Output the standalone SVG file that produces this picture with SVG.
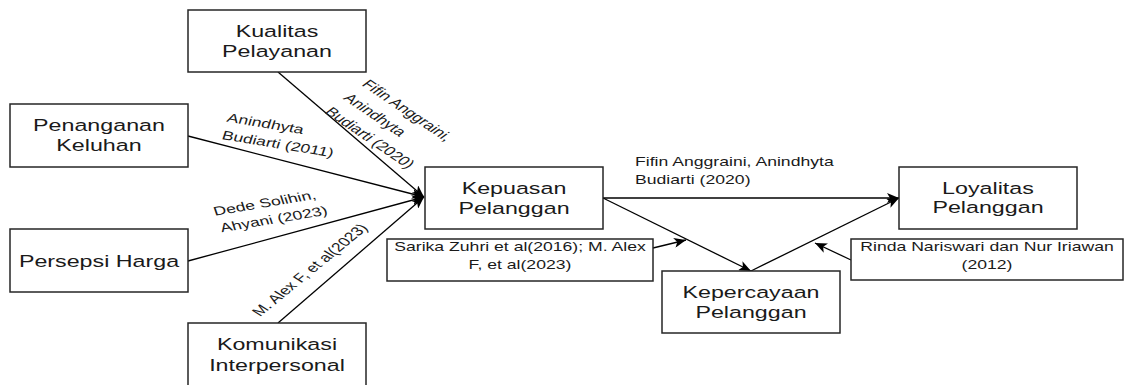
<svg xmlns="http://www.w3.org/2000/svg" width="1124" height="385" viewBox="0 0 1124 385">
<style>
.box{fill:#fff;stroke:#262626;stroke-width:1.5}
.n{font-family:"Liberation Sans",Arial,sans-serif;font-size:16.5px;fill:#1a1a1a;text-anchor:middle}
.l{font-family:"Liberation Sans",Arial,sans-serif;font-size:12.5px;fill:#1a1a1a}
.lc{text-anchor:middle}
.e{fill:none;stroke:#000;stroke-width:1.3}
</style>
<defs>
<marker id="arr" markerUnits="userSpaceOnUse" markerWidth="14" markerHeight="10" refX="12" refY="5" orient="auto">
<path d="M0,0 L12,5 L0,10 L3,5 Z" fill="#000"/>
</marker>
</defs>
<rect width="1124" height="385" fill="#fff"/>
<g id="connectors">
<line class="e" x1="278" y1="72" x2="424" y2="197" marker-end="url(#arr)"/>
<line class="e" x1="188" y1="136" x2="424" y2="197" marker-end="url(#arr)"/>
<line class="e" x1="188" y1="261" x2="424" y2="197" marker-end="url(#arr)"/>
<line class="e" x1="278" y1="323" x2="424" y2="197" marker-end="url(#arr)"/>
<line class="e" x1="603" y1="198" x2="899" y2="198" marker-end="url(#arr)"/>
<line class="e" x1="603" y1="198" x2="751" y2="271" marker-end="url(#arr)"/>
<line class="e" x1="751" y1="271" x2="899" y2="198" marker-end="url(#arr)"/>
<line class="e" x1="653" y1="248" x2="686" y2="240" marker-end="url(#arr)"/>
<line class="e" x1="851" y1="260" x2="815" y2="243" marker-end="url(#arr)"/>
</g>
<g id="edge-labels">
<text class="l" transform="translate(361,85) scale(1.41,1) rotate(43.6)">Fifin Anggraini,</text>
<text class="l" transform="translate(342.5,98.8) scale(1.41,1) rotate(43.6)">Anindhyta</text>
<text class="l" transform="translate(324,112.6) scale(1.41,1) rotate(43.6)">Budiarti (2020)</text>
<text class="l" transform="translate(226,121.5) scale(1.41,1) rotate(13)">Anindhyta</text>
<text class="l" transform="translate(221,139) scale(1.41,1) rotate(13)">Budiarti (2011)</text>
<text class="l" transform="translate(215,215.7) scale(1.41,1) rotate(-13.3)">Dede Solihin,</text>
<text class="l" transform="translate(221.7,232.3) scale(1.41,1) rotate(-13.3)">Ahyani (2023)</text>
<text class="l" transform="translate(260,317) scale(1.41,1) rotate(-49)">M. Alex F, et al(2023)</text>
<text class="l" transform="translate(635,166) scale(1.41,1)">Fifin Anggraini, Anindhyta</text>
<text class="l" transform="translate(635,184) scale(1.41,1)">Budiarti (2020)</text>
</g>
<g id="kualitas-pelayanan">
<rect class="box" x="188" y="10" width="178" height="62"/>
<text class="n" transform="translate(277,37) scale(1.41,1)">Kualitas</text>
<text class="n" transform="translate(277,57) scale(1.41,1)">Pelayanan</text>
</g>
<g id="penanganan-keluhan">
<rect class="box" x="10" y="104" width="178" height="63"/>
<text class="n" transform="translate(99,131) scale(1.41,1)">Penanganan</text>
<text class="n" transform="translate(99,151) scale(1.41,1)">Keluhan</text>
</g>
<g id="persepsi-harga">
<rect class="box" x="10" y="229" width="178" height="63"/>
<text class="n" transform="translate(99,267) scale(1.41,1)">Persepsi Harga</text>
</g>
<g id="komunikasi-interpersonal">
<rect class="box" x="188" y="323" width="178" height="64"/>
<text class="n" transform="translate(277,350) scale(1.41,1)">Komunikasi</text>
<text class="n" transform="translate(277,371) scale(1.41,1)">Interpersonal</text>
</g>
<g id="kepuasan-pelanggan">
<rect class="box" x="425" y="167" width="178" height="62"/>
<text class="n" transform="translate(514,194) scale(1.41,1)">Kepuasan</text>
<text class="n" transform="translate(514,214) scale(1.41,1)">Pelanggan</text>
</g>
<g id="loyalitas-pelanggan">
<rect class="box" x="899" y="167" width="178" height="62"/>
<text class="n" transform="translate(988,194) scale(1.41,1)">Loyalitas</text>
<text class="n" transform="translate(988,213) scale(1.41,1)">Pelanggan</text>
</g>
<g id="kepercayaan-pelanggan">
<rect class="box" x="662" y="271" width="178" height="62"/>
<text class="n" transform="translate(751,298) scale(1.41,1)">Kepercayaan</text>
<text class="n" transform="translate(751,318) scale(1.41,1)">Pelanggan</text>
</g>
<g id="sarika-note">
<rect class="box" x="387" y="239" width="266" height="42"/>
<text class="l lc" transform="translate(520,251) scale(1.41,1)">Sarika Zuhri et al(2016); M. Alex</text>
<text class="l lc" transform="translate(520,269) scale(1.41,1)">F, et al(2023)</text>
</g>
<g id="rinda-note">
<rect class="box" x="851" y="239" width="272" height="41"/>
<text class="l lc" transform="translate(987,251) scale(1.41,1)">Rinda Nariswari dan Nur Iriawan</text>
<text class="l lc" transform="translate(987,269) scale(1.41,1)">(2012)</text>
</g>
</svg>
